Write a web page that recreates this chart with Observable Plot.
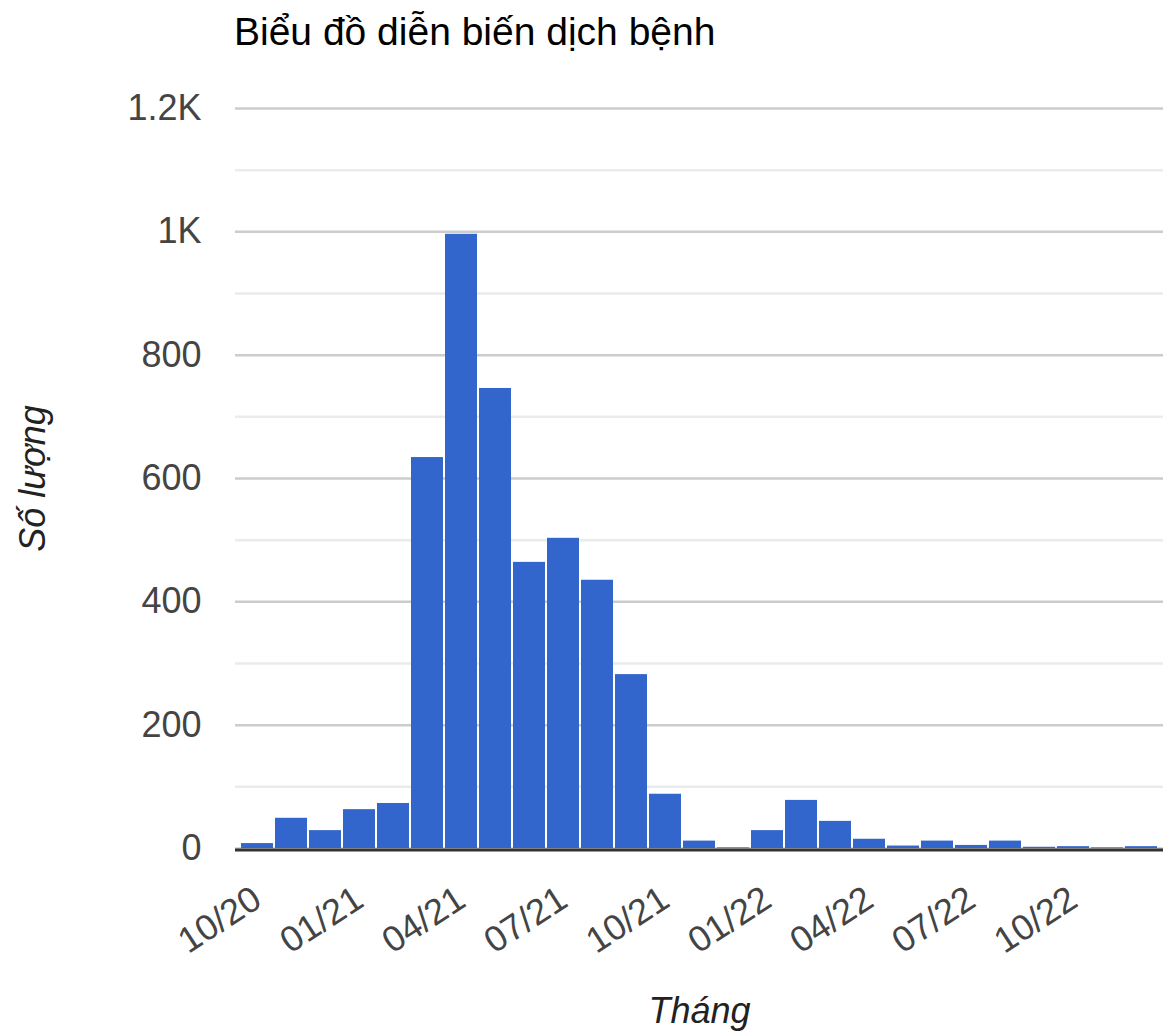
<!DOCTYPE html>
<html><head><meta charset="utf-8">
<script src="https://cdn.jsdelivr.net/npm/d3@7"></script>
<script src="https://cdn.jsdelivr.net/npm/@observablehq/plot@0.6"></script>
<style>
body{margin:0;background:#fff;width:1163px;height:1031px;position:relative;overflow:hidden;font-family:Arial,"Liberation Sans",sans-serif}
#title{position:absolute;left:234px;top:12px;font-size:39px;line-height:39px;color:#000;white-space:nowrap}
#chart{position:absolute;left:0;top:60px}
</style></head><body>
<div id="title">Biểu đồ diễn biến dịch bệnh</div>
<div id="chart"></div>
<script>
const months = ["10/20","11/20","12/20","01/21","02/21","03/21","04/21","05/21","06/21","07/21","08/21","09/21","10/21","11/21","12/21","01/22","02/22","03/22","04/22","05/22","06/22","07/22","08/22","09/22","10/22","11/22","12/22"];
const cases = [8,49,29,63,73,634,996,746,464,503,435,282,88,12,1,29,78,44,15,4,12,5,12,2,3,1,3];
const xTicks = ["10/20","01/21","04/21","07/21","10/21","01/22","04/22","07/22","10/22"];
const yMajor = [0,200,400,600,800,1000,1200];
const yMinor = [100,300,500,700,900,1100];
const yTitle = "Số lượng";
const xTitle = "Tháng";
const data = months.map((m,i)=>({month:m, value:cases[i]}));
const chart = Plot.plot({
  width:1163, height:971, marginLeft:235, marginRight:0, marginTop:48, marginBottom:183,
  style:{fontFamily:"Arial, 'Liberation Sans', sans-serif", fontSize:"36px", color:"#444", background:"#fff", overflow:"visible"},
  x:{type:"band", domain:months, padding:0.05, label:null},
  y:{domain:[0,1200], label:null},
  marks:[
    Plot.ruleY(yMinor,{stroke:"#ebebeb", strokeWidth:2.5}),
    Plot.ruleY(yMajor,{stroke:"#cccccc", strokeWidth:2.5}),
    Plot.rectY(data,{x:"month", y:"value", fill:"#3366cc"}),
    Plot.ruleY([0],{stroke:"#333", strokeWidth:3, dy:1.5}),
    Plot.axisY({ticks:yMajor, tickSize:0, tickPadding:34, tickFormat: d => d>=1000 ? d/1000+"K" : d, label:null}),
    Plot.axisX({ticks:xTicks, tickSize:0, tickPadding:47, tickRotate:-33, label:null, dx:0}),
    Plot.text([yTitle],{text:d=>d, frameAnchor:"left", textAnchor:"middle", rotate:-90, dx:-202, fontStyle:"italic", fill:"#222", fontSize:36}),
    Plot.text([xTitle],{text:d=>d, frameAnchor:"bottom", dy:174, fontStyle:"italic", fill:"#222", fontSize:36})
  ]
});
document.getElementById("chart").appendChild(chart);
</script>
</body></html>
